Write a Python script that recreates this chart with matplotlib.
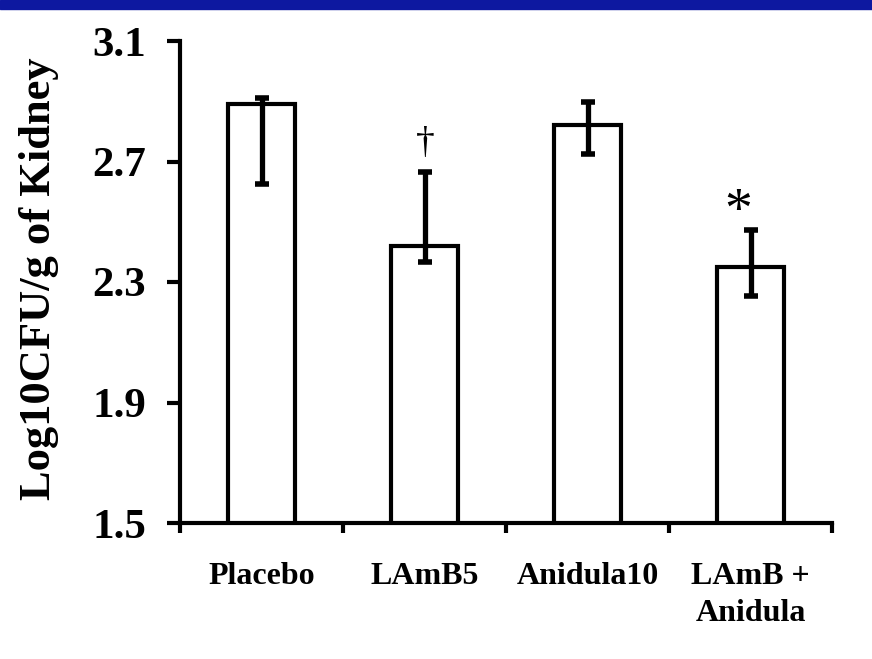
import matplotlib
matplotlib.use("Agg")
import matplotlib.pyplot as plt
from matplotlib.patches import Rectangle
import numpy as np

categories = ["Placebo", "LAmB5", "Anidula10", "LAmB +\nAnidula"]
means = [2.89, 2.42, 2.82, 2.35]
err_upper = [2.912, 2.665, 2.897, 2.472]
err_lower = [2.624, 2.366, 2.726, 2.254]
marks = ["", "\u2020", "", "*"]
yticks = [1.5, 1.9, 2.3, 2.7, 3.1]

plt.rcParams['font.family'] = ['Liberation Serif', 'DejaVu Serif']

W, H = 872, 659
fig = plt.figure(figsize=(W/100, H/100), dpi=100)
fig.patches.append(Rectangle((0, 1 - 9/H), 1, 9/H, transform=fig.transFigure,
                             color='#0d18a0', zorder=10))

ax = fig.add_axes([180/W, 1 - 523/H, 652/W, 482/H])
x = np.arange(len(categories))
m = np.array(means)
yerr = np.array([m - np.array(err_lower), np.array(err_upper) - m])
ax.bar(x, m, width=0.405, bottom=0, color='white', edgecolor='black', linewidth=3, zorder=2)
ax.errorbar(x, m, yerr=yerr, fmt='none', ecolor='black', elinewidth=3.8,
            capsize=5, capthick=4, zorder=3)

ax.set_xlim(-0.5, 3.5)
ax.set_ylim(1.5, 3.1)
ax.set_yticks(yticks)
ax.set_yticklabels([f"{v:.1f}" for v in yticks], fontsize=31, fontweight='bold')
ax.tick_params(axis='y', direction='out', length=9.5, width=3, pad=15)

ax.set_xticks(np.arange(-0.5, 4, 1.0))
ax.set_xticklabels([])
ax.tick_params(axis='x', which='major', direction='out', length=7.5, width=3)
ax.set_xticks(x, minor=True)
ax.set_xticklabels(categories, minor=True, fontsize=23, fontweight='bold', linespacing=1.35)
ax.tick_params(axis='x', which='minor', length=0, pad=28)

for s in ['top', 'right']:
    ax.spines[s].set_visible(False)
for s in ['left', 'bottom']:
    ax.spines[s].set_linewidth(3)

# significance marks
ax.text(1 + 0.005, 2.76, marks[1], ha='center', va='center', fontsize=27)
ax.text(3 - 0.075, 2.53, marks[3], ha='center', va='center', fontsize=40)

fig.text(39/W, 1 - 279/H, "Log10CFU/g of Kidney", rotation=90, ha='center', va='center',
         fontsize=32, fontweight='bold')

fig.savefig("out.png", dpi=100)
